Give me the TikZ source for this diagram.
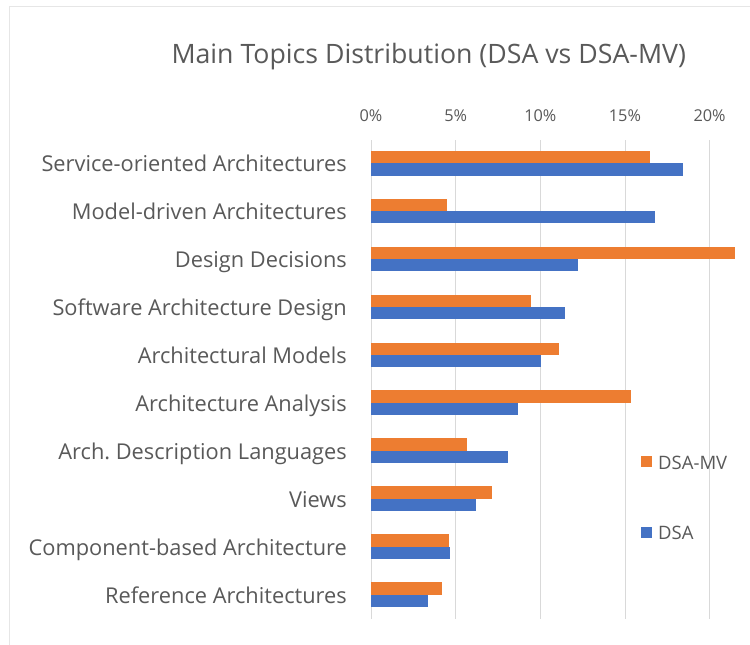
\documentclass[tikz,border=0pt]{standalone}
\usepackage{fontspec}
\setmainfont{Open Sans}
\definecolor{mvorange}{HTML}{ED7D31}
\definecolor{dsablue}{HTML}{4472C4}
\definecolor{txtgray}{HTML}{595959}
\definecolor{gridgray}{HTML}{D9D9D9}
\definecolor{framegray}{HTML}{E6E6E6}
\tikzset{
  cat/.style={anchor=base east,text=txtgray,font=\fontsize{21.8}{26}\selectfont,inner sep=0pt},
  tick/.style={anchor=base,text=txtgray,font=\fontsize{16.3}{19}\selectfont,inner sep=0pt},
  legtext/.style={anchor=base west,text=txtgray,font=\fontsize{18.5}{22}\selectfont,inner sep=0pt},
  grid/.style={draw=gridgray,line width=0.8pt},
  mvbar/.style={fill=mvorange},
  dsabar/.style={fill=dsablue}
}
\begin{document}
\begin{tikzpicture}[x=1pt,y=-1pt]
  \useasboundingbox[fill=white] (0,0) rectangle (750,645);
  \draw[framegray,line width=1pt] (9,645) -- (9,6) -- (750,6);
  \node[anchor=base,text=txtgray,font=\fontsize{26.7}{31}\selectfont,inner sep=0pt]
    (title) at (428.7,63.3) {Main Topics Distribution (DSA vs DSA-MV)};
  % percent axis
  \begin{scope}[shift={(371pt,0pt)},x=16.93pt]
    \draw[grid] (0,140) -- (0,619);
    \draw[grid] (5,140) -- (5,619);
    \draw[grid] (10,140) -- (10,619);
    \draw[grid] (15,140) -- (15,619);
    \draw[grid] (20,140) -- (20,619);
    \node[tick] (t0) at (0,121.7) {0\%};
    \node[tick] (t5) at (5,121.7) {5\%};
    \node[tick] (t10) at (10,121.7) {10\%};
    \node[tick] (t15) at (15,121.7) {15\%};
    \node[tick] (t20) at (20,121.7) {20\%};
    % DSA-MV bars
    \fill[mvbar] (0,150.7) rectangle (16.46,163.0);
    \fill[mvbar] (0,198.65) rectangle (4.49,210.95);
    \fill[mvbar] (0,246.6) rectangle (21.52,258.9);
    \fill[mvbar] (0,294.55) rectangle (9.43,306.85);
    \fill[mvbar] (0,342.5) rectangle (11.09,354.8);
    \fill[mvbar] (0,390.45) rectangle (15.38,402.75);
    \fill[mvbar] (0,438.4) rectangle (5.69,450.7);
    \fill[mvbar] (0,486.35) rectangle (7.13,498.65);
    \fill[mvbar] (0,534.3) rectangle (4.61,546.6);
    \fill[mvbar] (0,582.25) rectangle (4.17,594.55);
    % DSA bars
    \fill[dsabar] (0,163.0) rectangle (18.45,175.5);
    \fill[dsabar] (0,210.95) rectangle (16.80,223.45);
    \fill[dsabar] (0,258.9) rectangle (12.21,271.4);
    \fill[dsabar] (0,306.85) rectangle (11.48,319.35);
    \fill[dsabar] (0,354.8) rectangle (10.02,367.3);
    \fill[dsabar] (0,402.75) rectangle (8.66,415.25);
    \fill[dsabar] (0,450.7) rectangle (8.07,463.2);
    \fill[dsabar] (0,498.65) rectangle (6.22,511.15);
    \fill[dsabar] (0,546.6) rectangle (4.65,559.1);
    \fill[dsabar] (0,594.55) rectangle (3.37,607.05);
  \end{scope}
  % category labels
  \node[cat] (soa) at (347,171.7) {Service-oriented Architectures};
  \node[cat] (mda) at (347,219.65) {Model-driven Architectures};
  \node[cat] (dd) at (347,267.6) {Design Decisions};
  \node[cat] (sad) at (347,315.55) {Software Architecture Design};
  \node[cat] (am) at (347,363.5) {Architectural Models};
  \node[cat] (aa) at (347,411.45) {Architecture Analysis};
  \node[cat] (adl) at (347,459.4) {Arch.\ Description Languages};
  \node[cat] (views) at (347,507.35) {Views};
  \node[cat] (cba) at (347,555.3) {Component-based Architecture};
  \node[cat] (ra) at (347,603.25) {Reference Architectures};
  % legend
  \fill[mvbar] (641,456) rectangle (651.7,467.3);
  \node[legtext] (legmv) at (658,469) {DSA-MV};
  \fill[dsabar] (641,526.7) rectangle (651.7,538.3);
  \node[legtext] (legdsa) at (658,539.5) {DSA};
\end{tikzpicture}
\end{document}
